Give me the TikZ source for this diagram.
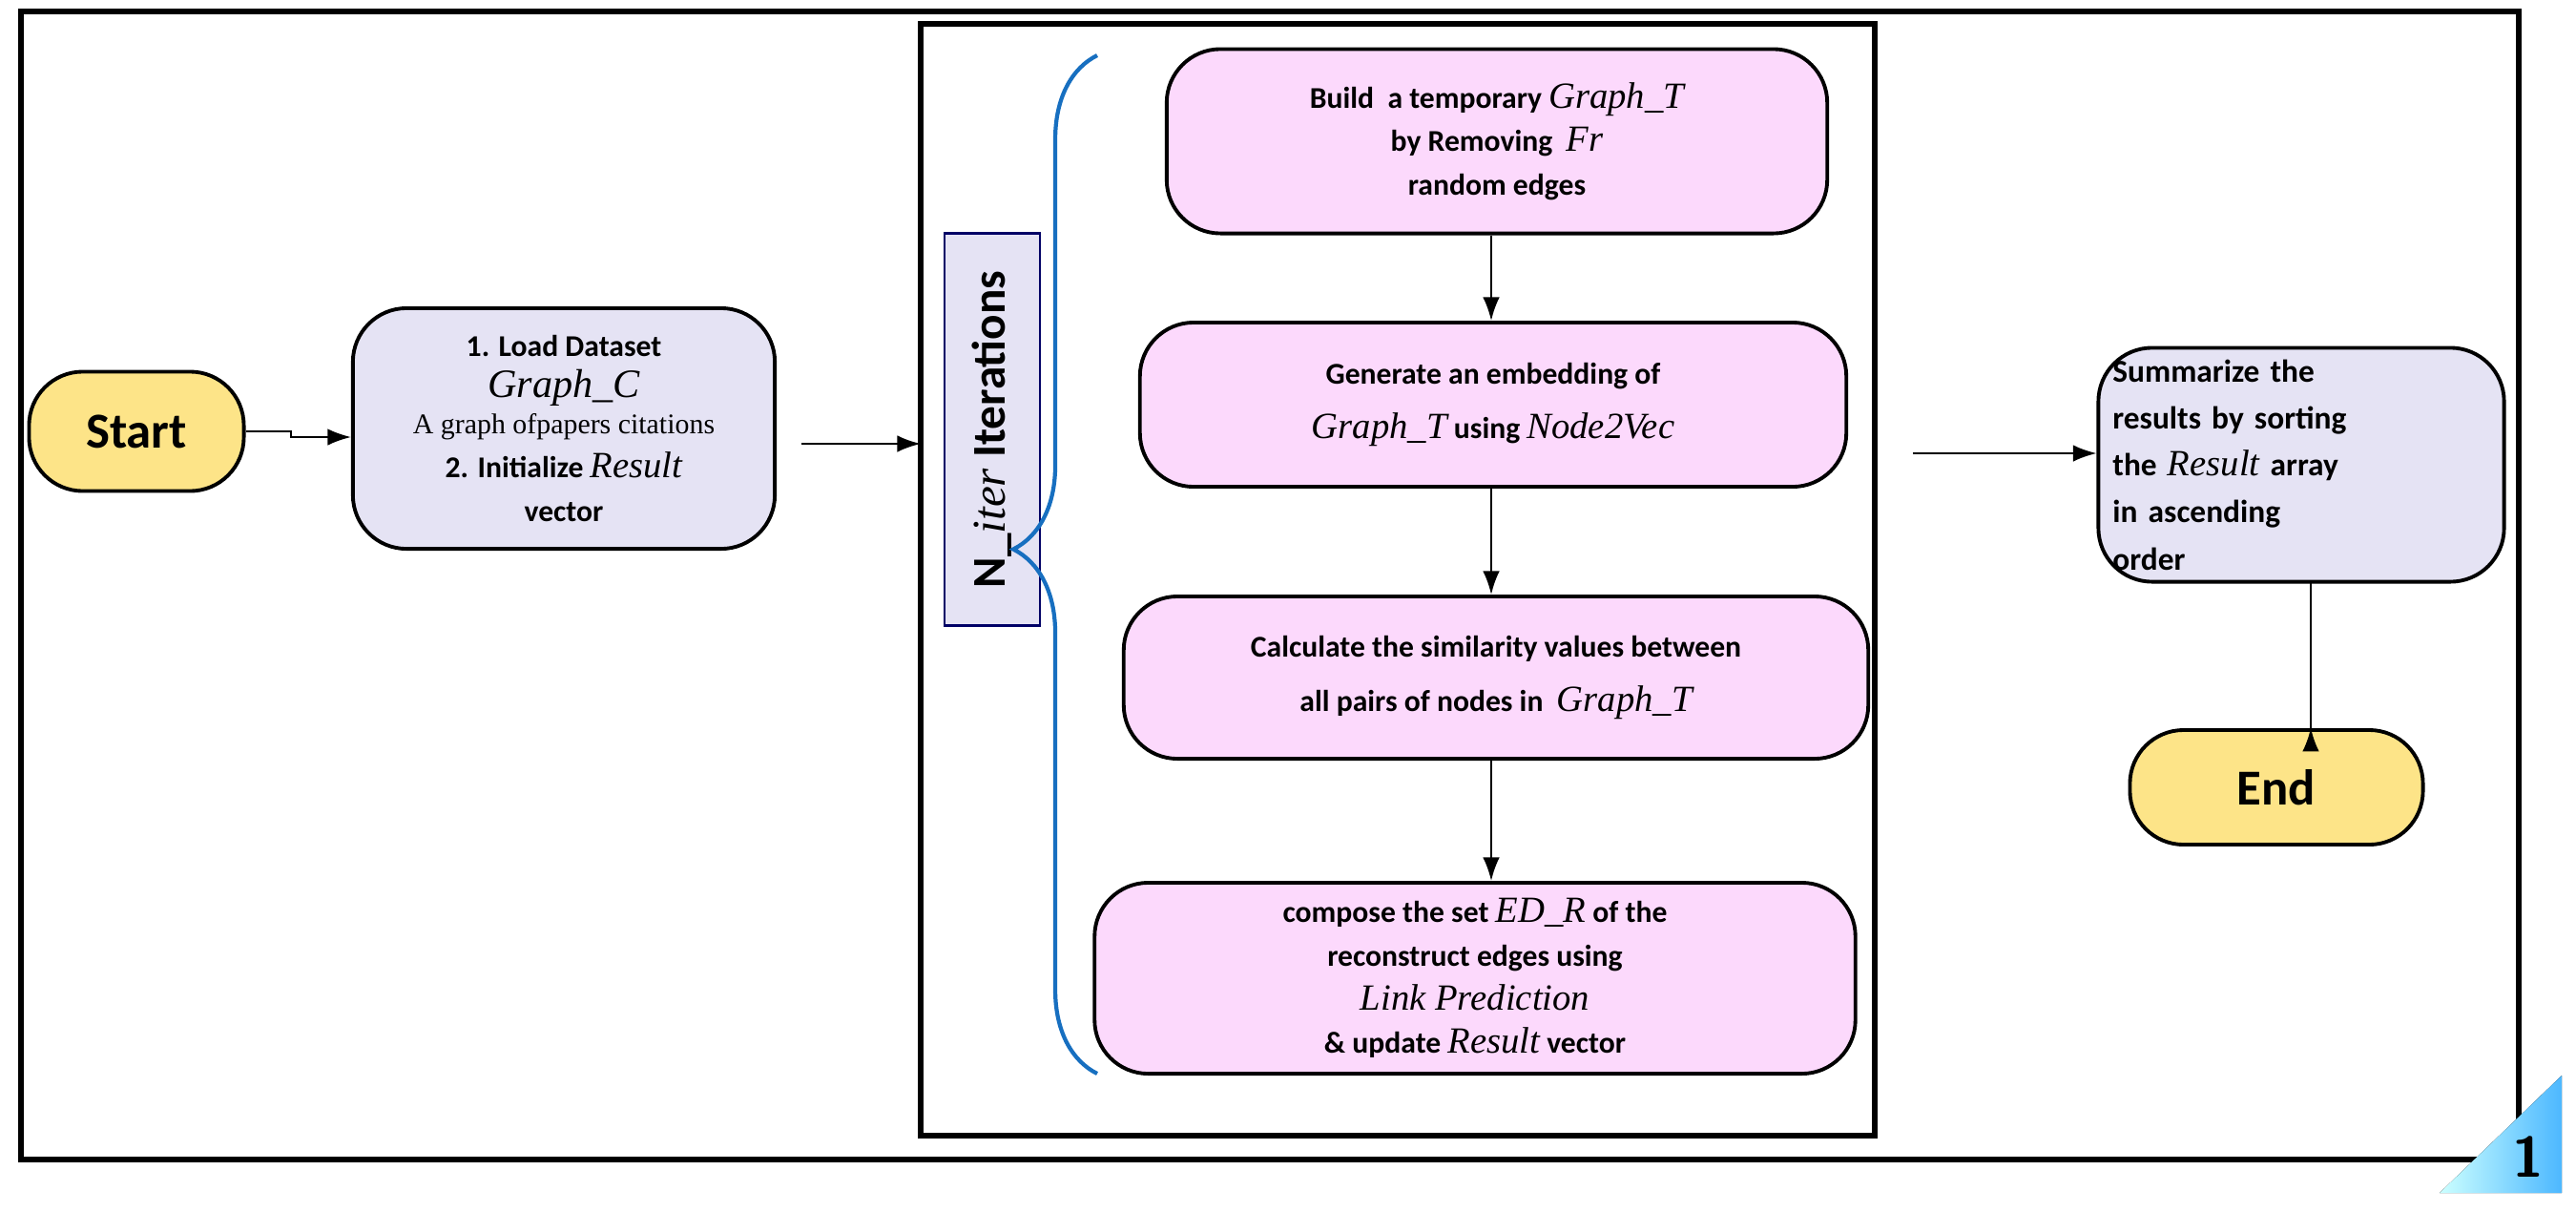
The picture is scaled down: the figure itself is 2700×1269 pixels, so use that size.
\documentclass[tikz,border=0pt]{standalone}
\usepackage{fontspec}
\setmainfont{Carlito}
\newfontfamily\tms{Liberation Serif}
\usetikzlibrary{decorations.pathreplacing,arrows.meta}
\newcommand{\vr}[1]{{\tms\itshape\mdseries #1}}
\begin{document}
\begin{tikzpicture}[x=0.01cm,y=-0.01cm,
  box/.style={draw=black,line width=1.1pt,rounded corners=16pt,align=center,font=\bfseries\fontsize{9}{13}\selectfont,inner sep=2pt},
  pink/.style={box,fill=violet!18!magenta!15},
  blue/.style={box,fill=cyan!20!blue!10},
  yel/.style={box,fill=yellow!60!orange!45,font=\bfseries\fontsize{15}{18}\selectfont},
  arr/.style={-{Latex[length=7pt,width=5pt]},line width=0.6pt}]
\useasboundingbox (0,0) rectangle (2700,1269);
\draw[line width=1.5pt] (22,12) rectangle (2640,1215);
\draw[line width=1.5pt] (965,25) rectangle (1965,1190);
\fill[left color=cyan!20,right color=cyan!60!blue!70] (2557,1250) -- (2685,1127) -- (2685,1250) -- cycle;
\node[font=\sffamily\bfseries\fontsize{17}{17}\selectfont] (num) at (2650,1212) {1};
\node[yel,minimum width=2.25cm,minimum height=1.25cm] (start) at (143,452) {Start};
\node[blue,minimum width=4.42cm,minimum height=2.52cm] (load) at (591,449) {1. Load Dataset\\[-1pt]
 {\fontsize{12}{13}\selectfont\vr{Graph\_C}}\\[-2pt]
 {\tms\mdseries\fontsize{8.5}{10}\selectfont A graph ofpapers citations}\\
 2. Initialize \vr{\fontsize{11}{12}\selectfont Result}\\ vector};
\node[draw=blue!40!black,fill=cyan!20!blue!10,line width=0.8pt,minimum width=4.1cm,minimum height=1cm,rotate=90,font=\bfseries\fontsize{14}{16}\selectfont,inner sep=0pt] (nit) at (1040,450) {N\_\vr{iter} Iterations};
\draw[decorate,decoration={brace,amplitude=25pt,aspect=0.515},cyan!50!blue,line width=1.2pt] (1150,1125) -- (1150,58);
\node[pink,minimum width=6.92cm,minimum height=1.93cm] (b1) at (1569,148) {Build \ a temporary \vr{\fontsize{11}{12}\selectfont Graph\_T}\\ by Removing \ \vr{\fontsize{11}{12}\selectfont Fr}\\ random edges};
\node[pink,minimum width=7.4cm,minimum height=1.72cm] (b2) at (1565,424) {Generate an embedding of\\[3pt] \vr{\fontsize{11}{12}\selectfont Graph\_T} using \vr{\fontsize{11}{12}\selectfont Node2Vec}};
\node[pink,minimum width=7.8cm,minimum height=1.7cm] (b3) at (1568,710) {Calculate the similarity values between\\[3pt] all pairs of nodes in \ \vr{\fontsize{11}{12}\selectfont Graph\_T}};
\node[pink,minimum width=7.97cm,minimum height=2cm] (b4) at (1546,1025) {compose the set \vr{\fontsize{11}{12}\selectfont ED\_R} of the\\ reconstruct edges using\\ \vr{\fontsize{11}{12}\selectfont Link Prediction}\\ \& update \vr{\fontsize{11}{12}\selectfont Result} vector};
\node[blue,minimum width=4.25cm,minimum height=2.45cm,text width=3.95cm,align=left,font=\bfseries\fontsize{9.5}{14}\selectfont] (sum) at (2412,487) {Summarize the\\ results by sorting\\ the \vr{\fontsize{11}{12}\selectfont Result} array\\ in ascending\\ order};
\node[yel,minimum width=3.07cm,minimum height=1.2cm] (end) at (2386,825) {End};
\coordinate (a0) at (305,452);
\coordinate (a1) at (318,458);
\draw[arr] (start.east |- a0) -- (a0) -- (a0 |- a1) -- (load.west |- a1);
\coordinate (c1) at (840,465);
\draw[arr] (c1) -- (965,465);
\draw[arr] (b1.south -| 1563,0) -- (b2.north -| 1563,0);
\draw[arr] (b2.south -| 1563,0) ++(0,0.3) -- (b3.north -| 1563,0);
\draw[arr] (b3.south -| 1563,0) ++(0,0.3) -- (b4.north -| 1563,0);
\coordinate (r1) at (2005,475);
\draw[arr] (r1) -- (sum.west |- r1);
\draw[arr] (sum.south -| 2422,0) ++(0,-0.2) -- (end.north -| 2422,0) ++(0,-0.2);
\end{tikzpicture}
\end{document}
